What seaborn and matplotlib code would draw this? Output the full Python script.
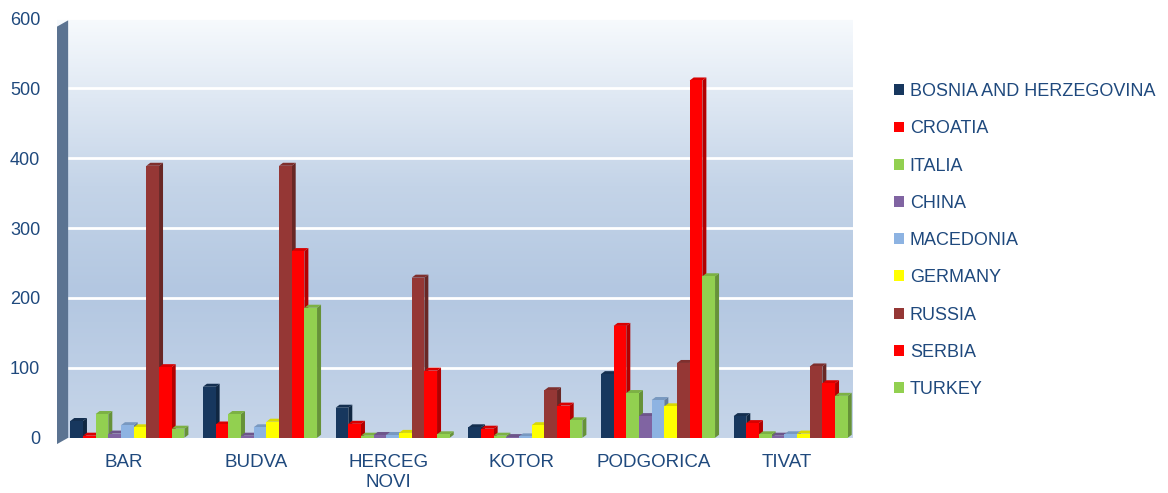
import numpy as np
import pandas as pd
import matplotlib
matplotlib.use("Agg")
import matplotlib.pyplot as plt
import matplotlib.colors as mcolors
from matplotlib.patches import Polygon
import seaborn as sns

# --- data ---
cities = ["BAR", "BUDVA", "HERCEG\nNOVI", "KOTOR", "PODGORICA", "TIVAT"]
countries = ["BOSNIA AND HERZEGOVINA", "CROATIA", "ITALIA", "CHINA", "MACEDONIA",
             "GERMANY", "RUSSIA", "SERBIA", "TURKEY"]
bosnia = [24, 73, 43, 15, 91, 31]
croatia = [3, 19, 20, 13, 160, 21]
italia = [34, 34, 3, 3, 64, 5]
china = [6, 3, 4, 1, 31, 3]
macedonia = [18, 15, 4, 2, 54, 5]
germany = [15, 23, 7, 18, 45, 6]
russia = [389, 389, 229, 68, 107, 102]
serbia = [101, 267, 96, 46, 511, 78]
turkey = [13, 186, 5, 25, 231, 60]
colors = ["#17375e", "#ff0000", "#92d050", "#8064a2", "#8db3e2",
          "#ffff00", "#953735", "#ff0000", "#92d050"]

series = [bosnia, croatia, italia, china, macedonia, germany, russia, serbia, turkey]
rows = []
for name, vals in zip(countries, series):
    for c, v in zip(cities, vals):
        rows.append({"city": c, "country": name, "value": v})
df = pd.DataFrame(rows)

sns.set_style("white")
plt.rcParams["font.family"] = ["Liberation Sans", "DejaVu Sans"]
txt = "#1f497d"

fig = plt.figure(figsize=(11.68, 4.93), dpi=100)
ax = fig.add_axes([57 / 1168, 0.112, 796 / 1168, 0.851])

sns.barplot(data=df, x="city", y="value", hue="country", hue_order=countries,
            palette=colors, width=0.86, saturation=1, ax=ax, zorder=3,
            edgecolor="none", legend=True)
ax.set_ylim(0, 600)
ax.set_xlim(-0.5, 5.5)

# gradient backdrop
cmap = mcolors.LinearSegmentedColormap.from_list(
    "bg", [(0, "#c6d5e9"), (0.35, "#b3c7e1"), (0.6, "#c4d4e8"), (1, "#f7fafd")])
grad = np.linspace(0, 1, 256).reshape(-1, 1)
ax.imshow(grad, extent=[-0.5, 5.5, 0, 600], origin="lower", aspect="auto",
          cmap=cmap, zorder=0)
for yv in range(100, 601, 100):
    ax.axhline(yv, color="white", lw=2, zorder=1)

# 3D side/top faces for each bar
fig.canvas.draw()
inv = ax.transData.inverted()
p0 = inv.transform((0, 0))
p1 = inv.transform((4, 3))
dx, dy = p1 - p0
for i, cont in enumerate(ax.containers):
    for bar in cont:
        x0, w, h = bar.get_x() + dx, bar.get_width(), bar.get_height()
        bar.set_x(x0)
        x1 = x0 + w
        fc = np.array(mcolors.to_rgb(bar.get_facecolor()))
        z = 3 + i * 0.1
        bar.set_zorder(z)
        side = Polygon([(x1, 0), (x1 + dx, dy), (x1 + dx, h + dy), (x1, h)],
                       closed=True, facecolor=fc * 0.7, edgecolor="none", zorder=z - 0.05)
        top = Polygon([(x0, h), (x0 + dx, h + dy), (x1 + dx, h + dy), (x1, h)],
                      closed=True, facecolor=fc * 0.85, edgecolor="none", zorder=z - 0.05)
        ax.add_patch(side)
        ax.add_patch(top)

# left wall
wall = Polygon([(0, -0.015), (0.014, 0.0), (0.014, 0.995), (0, 0.98)], closed=True,
               transform=ax.transAxes, facecolor="#5b7391", edgecolor="none",
               clip_on=False, zorder=5)
ax.add_patch(wall)

for s in ax.spines.values():
    s.set_visible(False)
ax.set_yticks(range(0, 601, 100))
ax.tick_params(axis="y", length=0, pad=12, labelsize=13, labelcolor=txt)
ax.tick_params(axis="x", length=0, pad=12, labelsize=13.5, labelcolor=txt)
ax.set_xlabel("")
ax.set_ylabel("")

handles, labels = ax.get_legend_handles_labels()
leg = ax.legend(handles, labels, loc="center left", bbox_to_anchor=(1.043, 0.47),
                frameon=False, fontsize=13, labelspacing=1.12, handlelength=0.55,
                handleheight=0.55, handletextpad=0.3, borderaxespad=0)
for t in leg.get_texts():
    t.set_color(txt)

fig.savefig("out.png", dpi=100)
